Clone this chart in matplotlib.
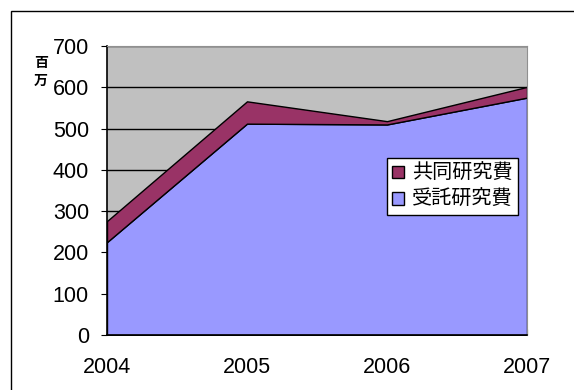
import matplotlib
matplotlib.use("Agg")
import matplotlib.pyplot as plt
from matplotlib.patches import Rectangle, Patch

years = ["2004", "2005", "2006", "2007"]
jutaku = [225, 512, 510, 575]      # 受託研究費
kyodo = [51, 54, 8, 26]            # 共同研究費

plt.rcParams['font.family'] = ['Liberation Sans', 'Noto Sans CJK JP', 'DejaVu Sans']

fig = plt.figure(figsize=(5.74, 3.90), dpi=100)
ax = fig.add_axes([0.1864, 0.141, 0.7317, 0.741])

x = list(range(len(years)))
ax.set_facecolor('#C0C0C0')
ax.stackplot(x, jutaku, kyodo, colors=['#9999FF', '#993366'],
             edgecolor='black', linewidth=1.0, zorder=3)

ax.set_xlim(0, len(years) - 1)
ax.set_ylim(0, 700)
ax.set_yticks(range(0, 701, 100))
ax.set_xticks(x)
ax.set_xticklabels(years)
ax.grid(axis='y', color='black', linewidth=1.0, zorder=1)
ax.set_axisbelow(True)

ax.tick_params(axis='y', labelsize=15.5, direction='out', length=4, pad=9)
ax.tick_params(axis='x', labelsize=15.5, direction='in', length=4, pad=16)
for side in ['top', 'right']:
    ax.spines[side].set_color('#909090')
for side in ['left', 'bottom']:
    ax.spines[side].set_color('black')
    ax.spines[side].set_linewidth(1.2)
for s in ax.spines.values():
    s.set_zorder(5)

fig.text(0.071, 0.815, "百\n万", fontsize=10, fontweight='bold',
         ha='center', va='center', linespacing=1.4,
         family=['Noto Sans CJK JP'])

handles = [Patch(facecolor='#993366', edgecolor='black', label='共同研究費'),
           Patch(facecolor='#9999FF', edgecolor='black', label='受託研究費')]
leg = ax.legend(handles=handles, loc='upper left', bbox_to_anchor=(0.667, 0.612),
                borderaxespad=0, frameon=True, fancybox=False, framealpha=1,
                edgecolor='black', handlelength=0.6, handleheight=0.6,
                handletextpad=0.4, borderpad=0.25, labelspacing=0.25,
                prop={'family': ['Noto Sans CJK JP'], 'size': 14.5})
leg.get_frame().set_linewidth(1.0)
leg.set_zorder(10)

fig.patches.append(Rectangle((11 / 574, -0.1), 1.2, 1 - 11 / 390 + 0.1,
                             transform=fig.transFigure, fill=False,
                             edgecolor='black', linewidth=1.0))

fig.savefig("out.png", dpi=100)
